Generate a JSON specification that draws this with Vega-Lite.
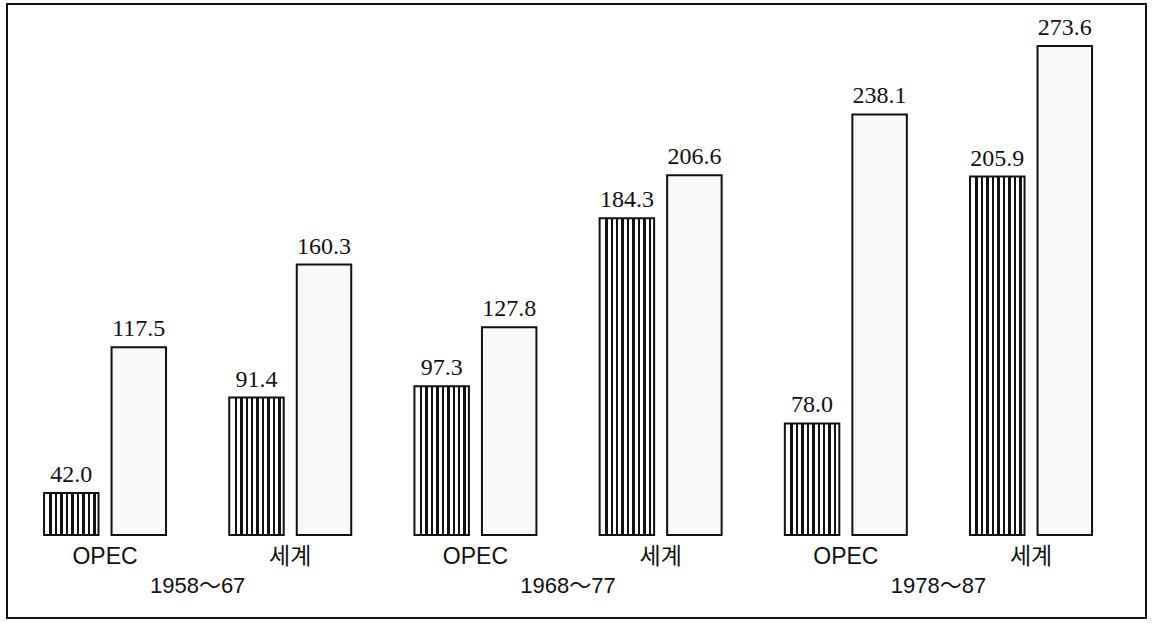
{
  "$schema": "https://vega.github.io/schema/vega-lite/v6.json",
  "width": 1155,
  "height": 623,
  "autosize": {"type": "fit", "contains": "padding"},
  "padding": {"left": 7, "top": 4, "right": 9, "bottom": 5},
  "background": "white",
  "config": {"view": {"stroke": "#111", "strokeWidth": 2}},
  "data": {
    "values": [
      {"period": "1958～67", "cat": "OPEC", "group": "1958～67 OPEC", "type": "stripe", "value": 42.0},
      {"period": "1958～67", "cat": "OPEC", "group": "1958～67 OPEC", "type": "dot", "value": 117.5},
      {"period": "1958～67", "cat": "세계", "group": "1958～67 세계", "type": "stripe", "value": 91.4},
      {"period": "1958～67", "cat": "세계", "group": "1958～67 세계", "type": "dot", "value": 160.3},
      {"period": "1968～77", "cat": "OPEC", "group": "1968～77 OPEC", "type": "stripe", "value": 97.3},
      {"period": "1968～77", "cat": "OPEC", "group": "1968～77 OPEC", "type": "dot", "value": 127.8},
      {"period": "1968～77", "cat": "세계", "group": "1968～77 세계", "type": "stripe", "value": 184.3},
      {"period": "1968～77", "cat": "세계", "group": "1968～77 세계", "type": "dot", "value": 206.6},
      {"period": "1978～87", "cat": "OPEC", "group": "1978～87 OPEC", "type": "stripe", "value": 78.0},
      {"period": "1978～87", "cat": "OPEC", "group": "1978～87 OPEC", "type": "dot", "value": 238.1},
      {"period": "1978～87", "cat": "세계", "group": "1978～87 세계", "type": "stripe", "value": 205.9},
      {"period": "1978～87", "cat": "세계", "group": "1978～87 세계", "type": "dot", "value": 273.6}
    ]
  },
  "encoding": {
    "x": {
      "field": "group",
      "type": "nominal",
      "axis": null,
      "scale": {
        "domain": ["1958～67 OPEC", "1958～67 세계", "1968～77 OPEC", "1968～77 세계", "1978～87 OPEC", "1978～87 세계"],
        "paddingInner": 0.3413,
        "paddingOuter": 0.2457,
        "align": 0.407
      }
    }
  },
  "layer": [
    {
      "transform": [{"filter": "datum.type == 'stripe'"}],
      "mark": {
        "type": "bar",
        "stroke": "#111",
        "strokeWidth": 2,
        "fill": {
          "gradient": "linear",
          "x1": 0, "x2": 1, "y1": 0, "y2": 0,
          "stops": [
            {"offset": 0, "color": "#ffffff"},
            {"offset": 0.1, "color": "#ffffff"}, {"offset": 0.1, "color": "#111111"}, {"offset": 0.145, "color": "#111111"}, {"offset": 0.145, "color": "#ffffff"},
            {"offset": 0.2, "color": "#ffffff"}, {"offset": 0.2, "color": "#111111"}, {"offset": 0.245, "color": "#111111"}, {"offset": 0.245, "color": "#ffffff"},
            {"offset": 0.3, "color": "#ffffff"}, {"offset": 0.3, "color": "#111111"}, {"offset": 0.345, "color": "#111111"}, {"offset": 0.345, "color": "#ffffff"},
            {"offset": 0.4, "color": "#ffffff"}, {"offset": 0.4, "color": "#111111"}, {"offset": 0.445, "color": "#111111"}, {"offset": 0.445, "color": "#ffffff"},
            {"offset": 0.5, "color": "#ffffff"}, {"offset": 0.5, "color": "#111111"}, {"offset": 0.545, "color": "#111111"}, {"offset": 0.545, "color": "#ffffff"},
            {"offset": 0.6, "color": "#ffffff"}, {"offset": 0.6, "color": "#111111"}, {"offset": 0.645, "color": "#111111"}, {"offset": 0.645, "color": "#ffffff"},
            {"offset": 0.7, "color": "#ffffff"}, {"offset": 0.7, "color": "#111111"}, {"offset": 0.745, "color": "#111111"}, {"offset": 0.745, "color": "#ffffff"},
            {"offset": 0.8, "color": "#ffffff"}, {"offset": 0.8, "color": "#111111"}, {"offset": 0.845, "color": "#111111"}, {"offset": 0.845, "color": "#ffffff"},
            {"offset": 0.9, "color": "#ffffff"}, {"offset": 0.9, "color": "#111111"}, {"offset": 0.945, "color": "#111111"}, {"offset": 0.945, "color": "#ffffff"},
            {"offset": 1, "color": "#ffffff"}
          ]
        }
      },
      "encoding": {
        "xOffset": {"field": "type", "type": "nominal", "scale": {"domain": ["stripe", "dot"], "paddingInner": 0.193}},
        "y": {"field": "value", "type": "quantitative", "axis": null, "scale": {"domain": [-22.8, 295.3], "nice": false, "zero": false}},
        "y2": {"datum": 20.2}
      }
    },
    {
      "transform": [{"filter": "datum.type == 'dot'"}],
      "mark": {"type": "bar", "stroke": "#111", "strokeWidth": 2, "fill": "#f9f9f9"},
      "encoding": {
        "xOffset": {"field": "type", "type": "nominal", "scale": {"domain": ["stripe", "dot"], "paddingInner": 0.193}},
        "y": {"field": "value", "type": "quantitative", "axis": null, "scale": {"domain": [-22.8, 295.3], "nice": false, "zero": false}},
        "y2": {"datum": 20.2}
      }
    },
    {
      "mark": {"type": "text", "font": "Liberation Serif", "fontSize": 24, "baseline": "alphabetic", "dy": -11, "color": "#111"},
      "encoding": {
        "xOffset": {"field": "type", "type": "nominal", "scale": {"domain": ["stripe", "dot"], "paddingInner": 0.193}},
        "y": {"field": "value", "type": "quantitative", "axis": null, "scale": {"domain": [-22.8, 295.3], "nice": false, "zero": false}},
        "text": {"field": "value", "type": "quantitative", "format": ".1f"}
      }
    },
    {
      "transform": [{"filter": "datum.type == 'stripe'"}],
      "mark": {"type": "text", "font": "Liberation Sans, Noto Sans CJK KR", "fontSize": 23, "baseline": "middle", "color": "#111"},
      "encoding": {
        "y": {"datum": 9.0, "type": "quantitative", "axis": null, "scale": {"domain": [-22.8, 295.3], "nice": false, "zero": false}},
        "text": {"field": "cat"}
      }
    },
    {
      "transform": [{"filter": "datum.type == 'stripe' && datum.cat == '세계'"}],
      "mark": {"type": "text", "font": "Liberation Sans, Noto Sans CJK KR", "fontSize": 22, "baseline": "middle", "dx": -31.6, "color": "#111"},
      "encoding": {
        "x": {"field": "group", "type": "nominal", "bandPosition": 0},
        "y": {"datum": -6.3, "type": "quantitative", "axis": null, "scale": {"domain": [-22.8, 295.3], "nice": false, "zero": false}},
        "text": {"field": "period"}
      }
    }
  ]
}
